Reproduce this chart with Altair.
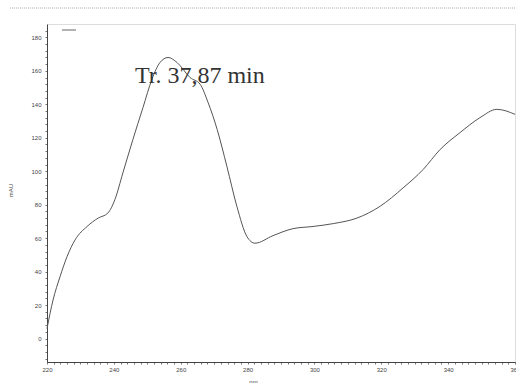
import altair as alt
import pandas as pd

wavelength = [220.0, 221.8, 223.9, 226.0, 228.4, 232.0, 235.3, 238.2, 240.3, 242.7,
              245.7, 248.7, 251.4, 253.8, 256.2, 258.9, 262.8, 265.8, 268.2, 270.9,
              273.8, 276.8, 279.8, 282.2, 287.6, 293.6, 299.6, 305.6, 312.7, 319.6,
              326.5, 332.5, 337.6, 343.5, 349.5, 354.6, 360.0]
absorbance = [6, 23, 37, 49, 59, 67, 72, 75, 83, 99,
              119, 138, 155, 165, 168, 165, 156, 152, 141, 125,
              103, 79, 61, 57, 61.5, 65.7, 67, 68.7, 72, 79,
              90, 101, 113, 123, 132, 137, 134]

label_text = ["Tr. 37,87 min"]
label_x = [246.3]
label_y = [153]

x_ticks = list(range(220, 362, 2))
y_ticks = list(range(-12, 188, 4))

df = pd.DataFrame({"nm": wavelength, "mAU": absorbance})
lab = pd.DataFrame({"t": label_text, "x": label_x, "y": label_y})

xs = alt.Scale(domain=[220, 360], nice=False, zero=False)
ys = alt.Scale(domain=[-14, 188], nice=False, zero=False)

line = alt.Chart(df).mark_line(color="#555555", strokeWidth=1, interpolate="monotone").encode(
    x=alt.X("nm:Q", scale=xs, axis=alt.Axis(
        values=x_ticks, tickCount=500, format="d",
        labelExpr="datum.value % 20 == 0 ? datum.label : ''",
        labelOverlap=False,
        title="nm", titleX=206, titleY=16, titleFontSize=6, titleFontWeight="normal",
        titleColor="#444", labelFontSize=6, labelColor="#444", labelPadding=2,
        tickSize=2, tickColor="#777", domainColor="#444", grid=False, labelFlush=False)),
    y=alt.Y("mAU:Q", scale=ys, axis=alt.Axis(
        values=y_ticks, tickCount=500, format="d",
        labelExpr="datum.value % 20 == 0 ? datum.label : ''",
        labelOverlap=False,
        title="mAU", titleX=-34, titleY=166, titleFontSize=6, titleFontWeight="normal",
        titleColor="#444", labelFontSize=6, labelColor="#444", labelPadding=4,
        tickSize=2, tickColor="#777", domainColor="#444", grid=False)),
)

text = alt.Chart(lab).mark_text(
    font="Liberation Serif", fontSize=24, color="#333333", align="left", baseline="alphabetic"
).encode(x=alt.X("x:Q", scale=xs), y=alt.Y("y:Q", scale=ys), text="t:N")

top_dots = alt.Chart(lab).mark_rule(color="#aaaaaa", strokeDash=[1, 1], strokeWidth=1).encode(
    x=alt.value(-37), x2=alt.value(469), y=alt.value(-16))
legend_mark = alt.Chart(lab).mark_rule(color="#999999", strokeWidth=1.5).encode(
    x=alt.value(15), x2=alt.value(29), y=alt.value(6))

chart = alt.layer(top_dots, legend_mark, line, text).properties(
    width=468, height=338,
    autosize=alt.AutoSizeParams(type="none"),
    padding={"left": 47, "top": 24, "right": 1, "bottom": 21},
).configure_view(stroke="#888888", strokeWidth=1.5).configure(background="white")

chart.save("out.html", embed_options={"renderer": "svg", "actions": False})
